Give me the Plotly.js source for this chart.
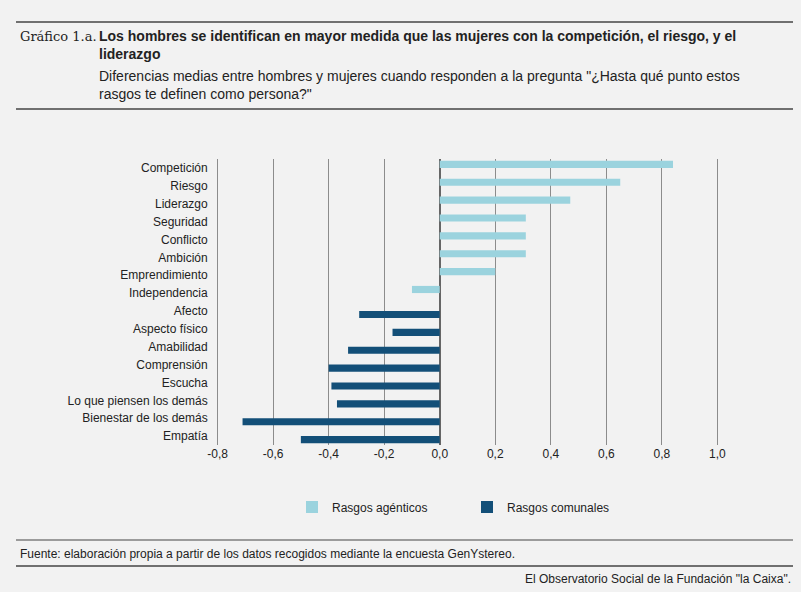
<!DOCTYPE html>
<html><head><meta charset="utf-8">
<script src="https://cdn.plot.ly/plotly-3.0.1.min.js"></script>
<style>body{margin:0;background:#f2f2f2}</style></head>
<body><div id="chart" style="width:801px;height:592px"></div>
<script>
const categories = ["Competición","Riesgo","Liderazgo","Seguridad","Conflicto","Ambición","Emprendimiento","Independencia",
  "Afecto","Aspecto físico","Amabilidad","Comprensión","Escucha","Lo que piensen los demás","Bienestar de los demás","Empatía"];
const agenticVals = [0.84, 0.65, 0.47, 0.31, 0.31, 0.31, 0.20, -0.10, null, null, null, null, null, null, null, null];
const communalVals = [null, null, null, null, null, null, null, null, -0.29, -0.17, -0.33, -0.40, -0.39, -0.37, -0.71, -0.50];
const tickVals = [-0.8,-0.6,-0.4,-0.2,0,0.2,0.4,0.6,0.8,1.0];
const tickText = ["-0,8","-0,6","-0,4","-0,2","0,0","0,2","0,4","0,6","0,8","1,0"];

const W = 801, H = 592, L = 212, R = 723, T = 159, B = 445;
const px = x => (x - L) / (R - L);
const py = y => (B - y) / (B - T);
const font = "Liberation Sans Narrow, Arial Narrow, Liberation Sans, sans-serif";

const data = [
  {type:"bar", orientation:"h", name:"Rasgos agénticos", y:categories, x:agenticVals, marker:{color:"#9bd3de"}},
  {type:"bar", orientation:"h", name:"Rasgos comunales", y:categories, x:communalVals, marker:{color:"#134f78"}}
];

function ann(x, y, text, size, opts) {
  return Object.assign({xref:"paper", yref:"paper", x:px(x), y:py(y), text:text, showarrow:false,
    xanchor:"left", yanchor:"middle", font:{size:size, color:"#222", family:font}}, opts || {});
}
function hline(y, w) {
  return {type:"line", xref:"paper", yref:"paper", x0:px(16), x1:px(793), y0:py(y), y1:py(y), line:{color:"#444", width:w}};
}

const layout = {
  width:W, height:H, paper_bgcolor:"#f2f2f2", plot_bgcolor:"#f2f2f2",
  margin:{l:L, r:W-R, t:T, b:H-B},
  barmode:"group", bargap:0.2, bargroupgap:0,
  font:{family:font, size:12, color:"#222"},
  xaxis:{range:[-0.82,1.02], tickvals:tickVals, ticktext:tickText, showgrid:true, gridcolor:"#8c8c8c", gridwidth:1,
    zeroline:true, zerolinecolor:"#666", zerolinewidth:2, showline:false, ticks:"", tickfont:{size:12}},
  yaxis:{categoryorder:"array", categoryarray:categories, autorange:"reversed", ticks:"", showgrid:false, tickfont:{size:12}, ticksuffix:" "},
  showlegend:true,
  legend:{orientation:"h", x:px(292), y:py(507), yanchor:"middle", xanchor:"left", entrywidth:130, font:{size:12}, bgcolor:"rgba(0,0,0,0)"},
  shapes:[hline(22,1.5), hline(109,1.5), hline(540,1), hline(566,1.5)],
  annotations:[
    ann(18, 36, "Gráfico 1.a.", 13, {font:{size:13, color:"#222", family:"DejaVu Serif, serif"}}),
    ann(97, 36, "<b>Los hombres se identifican en mayor medida que las mujeres con la competición, el riesgo, y el</b>", 14),
    ann(97, 54, "<b>liderazgo</b>", 14),
    ann(97, 76, "Diferencias medias entre hombres y mujeres cuando responden a la pregunta \"¿Hasta qué punto estos", 14),
    ann(97, 94, "rasgos te definen como persona?\"", 14),
    ann(18, 554, "Fuente: elaboración propia a partir de los datos recogidos mediante la encuesta GenYstereo.", 12),
    ann(793, 579, "El Observatorio Social de la Fundación \"la Caixa\".", 12, {xanchor:"right"})
  ]
};
Plotly.newPlot("chart", data, layout, {staticPlot:true});
</script></body></html>
